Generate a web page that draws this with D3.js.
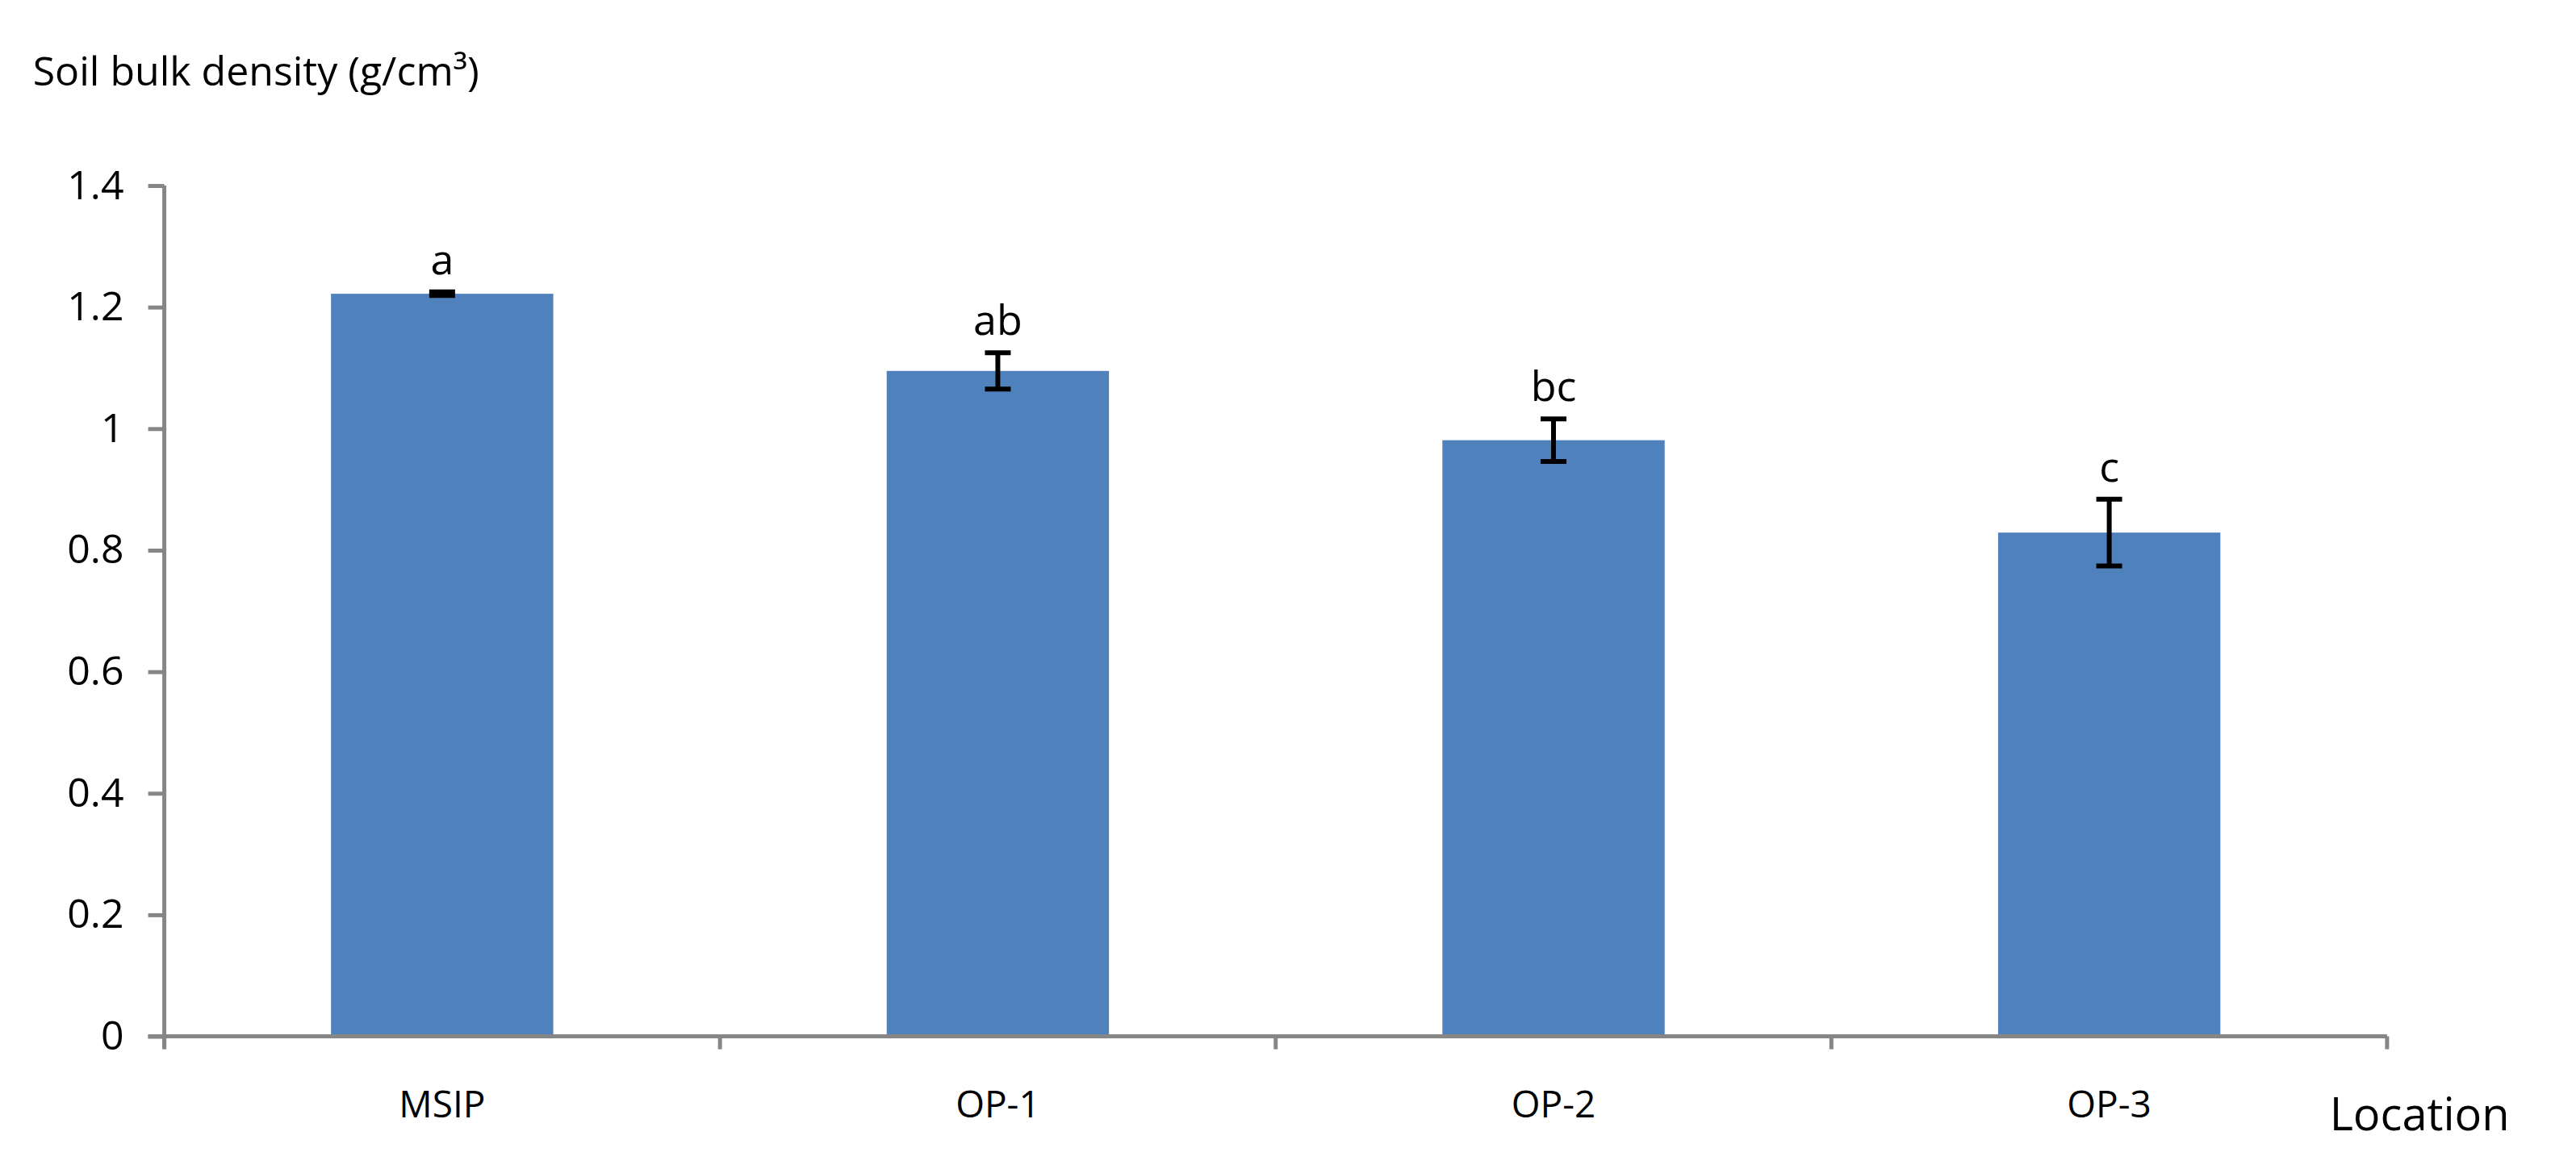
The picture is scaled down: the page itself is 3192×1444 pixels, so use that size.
<!DOCTYPE html>
<html><head><meta charset="utf-8">
<script src="https://cdn.jsdelivr.net/npm/d3@7"></script>
<style>body{margin:0;background:#fff}text{font-family:"Open Sans","DejaVu Sans",sans-serif;fill:#000}</style>
</head><body>
<script>
const categories = ['MSIP', 'OP-1', 'OP-2', 'OP-3']
const values = [1.222, 1.095, 0.981, 0.829]
const errors = [0.003, 0.03, 0.035, 0.055]
const letters = ['a', 'ab', 'bc', 'c']
const yTicks = [0, 0.2, 0.4, 0.6, 0.8, 1, 1.2, 1.4]

const s = 3192 / 1568
const W = 3192, H = 1444
const plotLeft = 100 * s, plotRight = 1453 * s, plotTop = 113 * s, plotBottom = 631 * s

const svg = d3.select('body').append('svg').attr('width', W).attr('height', H)

const x = d3.scaleBand().domain(categories).range([plotLeft, plotRight]).paddingInner(0.6).paddingOuter(0.3)
const y = d3.scaleLinear().domain([0, 1.4]).range([plotBottom, plotTop])

// bars
svg.selectAll('rect.bar').data(values).join('rect')
    .attr('class', 'bar')
    .attr('x', (d, i) => x(categories[i]))
    .attr('width', x.bandwidth())
    .attr('y', d => y(d))
    .attr('height', d => y(0) - y(d))
    .attr('fill', '#4f81bd')

// error bars
const eb = svg.selectAll('g.err').data(values).join('g').attr('class', 'err')
    .attr('transform', (d, i) => 'translate(' + (x(categories[i]) + x.bandwidth() / 2) + ',0)')
eb.append('line').attr('y1', (d, i) => y(d + errors[i])).attr('y2', (d, i) => y(d - errors[i]))
    .attr('stroke', '#000').attr('stroke-width', 6)
eb.selectAll('line.cap').data((d, i) => [d + errors[i], d - errors[i]]).join('line')
    .attr('class', 'cap').attr('x1', -16).attr('x2', 16)
    .attr('y1', d => y(d)).attr('y2', d => y(d))
    .attr('stroke', '#000').attr('stroke-width', 6)

// letters
svg.selectAll('text.letter').data(letters).join('text')
    .attr('class', 'letter')
    .attr('x', (d, i) => x(categories[i]) + x.bandwidth() / 2)
    .attr('y', (d, i) => y(values[i] + errors[i]) - 22)
    .attr('text-anchor', 'middle')
    .attr('font-size', 52)
    .text(d => d)

// y axis
const yAxis = svg.append('g').attr('transform', 'translate(' + plotLeft + ',0)')
    .call(d3.axisLeft(y).tickValues(yTicks).tickFormat(d => d3.format('')(d)).tickSize(20).tickPadding(30))
yAxis.selectAll('line,path').attr('stroke', '#868686').attr('stroke-width', 5)
yAxis.select('path').attr('d', 'M0,' + plotTop + 'V' + (plotBottom + 14))
yAxis.selectAll('text').attr('font-size', 50).attr('fill', '#000')
    .attr('font-family', '"Open Sans","DejaVu Sans",sans-serif')

// x axis
const xAxis = svg.append('g').attr('transform', 'translate(0,' + plotBottom + ')')
xAxis.append('line').attr('x1', plotLeft - 20).attr('x2', plotRight).attr('stroke', '#868686').attr('stroke-width', 5)
const step = (plotRight - plotLeft) / categories.length
xAxis.selectAll('line.div').data(d3.range(categories.length + 1)).join('line')
    .attr('class', 'div')
    .attr('x1', i => plotLeft + i * step).attr('x2', i => plotLeft + i * step)
    .attr('y1', 0).attr('y2', 16)
    .attr('stroke', '#868686').attr('stroke-width', 5)
xAxis.selectAll('text').data(categories).join('text')
    .attr('x', d => x(d) + x.bandwidth() / 2)
    .attr('y', 100)
    .attr('text-anchor', 'middle')
    .attr('font-size', 46)
    .text(d => d)

svg.append('text').attr('x', 1418 * s).attr('y', 688 * s).attr('font-size', 56).text('Location')
svg.append('text').attr('x', 20 * s).attr('y', 52 * s).attr('font-size', 50)
    .text('Soil bulk density (g/cm³)')
</script>
</body></html>
